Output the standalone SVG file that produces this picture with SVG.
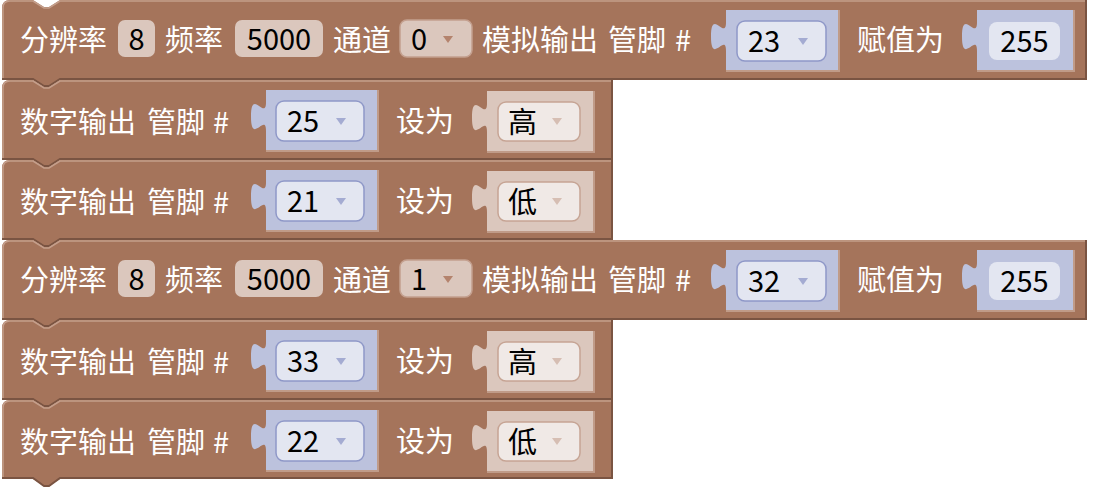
<svg xmlns="http://www.w3.org/2000/svg" width="1096" height="488" viewBox="0 0 1096 488">
<style>
.blk{fill:#a5745b}
.hl{fill:none;stroke:#c49e8b;stroke-width:1.5}
.dk{fill:none;stroke:#7a5442;stroke-width:2}
.slot{fill:none;stroke:#c09b88;stroke-width:2}
.lbl{font-family:"Noto Sans CJK SC","Noto Sans",sans-serif;font-size:29px;fill:#ffffff}
.val{font-family:"Noto Sans CJK SC","Noto Sans",sans-serif;font-size:29px;fill:#000000}
.fb{fill:#dbc7bd}
.fbd{fill:#dbc7bd;stroke:#c4a08f;stroke-width:1.5}
.vb{fill:#bcc2dd}
.vf{fill:#e3e6f1}
.vfd{fill:#e3e6f1;stroke:#8f98c8;stroke-width:1.5}
.lb{fill:#dbc7bd}
.lfd{fill:#f0e9e6;stroke:#c6a494;stroke-width:1.5}
.tri1{fill:#b4836d}
.tri2{fill:#a4abd2}
.tri3{fill:#d6beb3}
</style>

<!-- Block 1 -->
<g id="block1">
<path class="blk" d="M2,8 Q2,0 10,0 H33 l11,7 h5 l11,-7 H1087 V80 H60 l-11,7 h-5 l-11,-7 H2 Z"/>
<path class="hl" d="M3,80 V8 Q3,1 10,1 H33 l11,7 h5 l11,-7 H1086"/>
<path class="dk" d="M1086,0 V79 H60 l-11,7 h-5 l-11,-7 H2"/>
<text class="lbl" x="20" y="51">分辨率</text>
<rect class="fb" x="118" y="20" width="37" height="37" rx="7"/>
<text class="val" x="136.5" y="50" text-anchor="middle">8</text>
<text class="lbl" x="165" y="51">频率</text>
<rect class="fb" x="235" y="20" width="88" height="37" rx="7"/>
<text class="val" x="279" y="50" text-anchor="middle">5000</text>
<text class="lbl" x="333" y="51">通道</text>
<rect class="fbd" x="400" y="20" width="72" height="37" rx="7"/>
<text class="val" x="411" y="50">0</text>
<polygon class="tri1" points="443,36 453,36 448,43"/>
<text class="lbl" x="482" y="51">模拟输出</text>
<text class="lbl" x="608" y="51">管脚</text>
<text class="lbl" x="675" y="51">#</text>
<path class="slot" d="M839,10 V71 H726"/>
<path class="vb" d="M726,10 H838 V70 H726 V51 c0,-19 -15,15 -15,-14.5 s15,5 15,-14.5 Z"/>
<rect class="vfd" x="737" y="21" width="89" height="40" rx="8"/>
<text class="val" x="748" y="52">23</text>
<polygon class="tri2" points="798,38 808,38 803,45"/>
<text class="lbl" x="857" y="51">赋值为</text>
<path class="slot" d="M1074,10 V71 H977"/>
<path class="vb" d="M977,10 H1073 V70 H977 V51 c0,-19 -15,15 -15,-14.5 s15,5 15,-14.5 Z"/>
<rect class="vf" x="989" y="22" width="71" height="38" rx="8"/>
<text class="val" x="1024.5" y="52" text-anchor="middle">255</text>
</g>

<!-- Block 2 -->
<g id="block2" transform="translate(0,80)">
<path class="blk" d="M2,8 Q2,0 10,0 H33 l11,7 h5 l11,-7 H613 V80 H60 l-11,7 h-5 l-11,-7 H2 Z"/>
<path class="hl" d="M3,80 V8 Q3,1 10,1 H33 l11,7 h5 l11,-7 H612"/>
<path class="dk" d="M612,0 V79 H60 l-11,7 h-5 l-11,-7 H2"/>
<text class="lbl" x="20" y="53">数字输出</text>
<text class="lbl" x="147" y="53">管脚</text>
<text class="lbl" x="213" y="53">#</text>
<path class="slot" d="M378,10 V71 H266"/>
<path class="vb" d="M266,10 H377 V70 H266 V51 c0,-19 -15,15 -15,-14.5 s15,5 15,-14.5 Z"/>
<rect class="vfd" x="276" y="21" width="88" height="40" rx="8"/>
<text class="val" x="287" y="52">25</text>
<polygon class="tri2" points="336,38 346,38 341,45"/>
<text class="lbl" x="396" y="52">设为</text>
<path class="slot" d="M594,11 V72 H487"/>
<path class="lb" d="M487,11 H593 V71 H487 V52 c0,-19 -15,15 -15,-14.5 s15,5 15,-14.5 Z"/>
<rect class="lfd" x="498" y="22" width="82" height="39" rx="8"/>
<text class="val" x="508" y="53">高</text>
<polygon class="tri3" points="552,38 562,38 557,45"/>
</g>

<!-- Block 3 -->
<g id="block3" transform="translate(0,160)">
<path class="blk" d="M2,8 Q2,0 10,0 H33 l11,7 h5 l11,-7 H613 V80 H60 l-11,7 h-5 l-11,-7 H2 Z"/>
<path class="hl" d="M3,80 V8 Q3,1 10,1 H33 l11,7 h5 l11,-7 H612"/>
<path class="dk" d="M612,0 V79 H60 l-11,7 h-5 l-11,-7 H2"/>
<text class="lbl" x="20" y="53">数字输出</text>
<text class="lbl" x="147" y="53">管脚</text>
<text class="lbl" x="213" y="53">#</text>
<path class="slot" d="M378,10 V71 H266"/>
<path class="vb" d="M266,10 H377 V70 H266 V51 c0,-19 -15,15 -15,-14.5 s15,5 15,-14.5 Z"/>
<rect class="vfd" x="276" y="21" width="88" height="40" rx="8"/>
<text class="val" x="287" y="52">21</text>
<polygon class="tri2" points="336,38 346,38 341,45"/>
<text class="lbl" x="396" y="52">设为</text>
<path class="slot" d="M594,11 V72 H487"/>
<path class="lb" d="M487,11 H593 V71 H487 V52 c0,-19 -15,15 -15,-14.5 s15,5 15,-14.5 Z"/>
<rect class="lfd" x="498" y="22" width="82" height="39" rx="8"/>
<text class="val" x="508" y="53">低</text>
<polygon class="tri3" points="552,38 562,38 557,45"/>
</g>

<!-- Block 4 -->
<g id="block4" transform="translate(0,240)">
<path class="blk" d="M2,8 Q2,0 10,0 H33 l11,7 h5 l11,-7 H1087 V80 H60 l-11,7 h-5 l-11,-7 H2 Z"/>
<path class="hl" d="M3,80 V8 Q3,1 10,1 H33 l11,7 h5 l11,-7 H1086"/>
<path class="dk" d="M1086,0 V79 H60 l-11,7 h-5 l-11,-7 H2"/>
<text class="lbl" x="20" y="51">分辨率</text>
<rect class="fb" x="118" y="20" width="37" height="37" rx="7"/>
<text class="val" x="136.5" y="50" text-anchor="middle">8</text>
<text class="lbl" x="165" y="51">频率</text>
<rect class="fb" x="235" y="20" width="88" height="37" rx="7"/>
<text class="val" x="279" y="50" text-anchor="middle">5000</text>
<text class="lbl" x="333" y="51">通道</text>
<rect class="fbd" x="400" y="20" width="72" height="37" rx="7"/>
<text class="val" x="411" y="50">1</text>
<polygon class="tri1" points="443,36 453,36 448,43"/>
<text class="lbl" x="482" y="51">模拟输出</text>
<text class="lbl" x="608" y="51">管脚</text>
<text class="lbl" x="675" y="51">#</text>
<path class="slot" d="M839,10 V71 H726"/>
<path class="vb" d="M726,10 H838 V70 H726 V51 c0,-19 -15,15 -15,-14.5 s15,5 15,-14.5 Z"/>
<rect class="vfd" x="737" y="21" width="89" height="40" rx="8"/>
<text class="val" x="748" y="52">32</text>
<polygon class="tri2" points="798,38 808,38 803,45"/>
<text class="lbl" x="857" y="51">赋值为</text>
<path class="slot" d="M1074,10 V71 H977"/>
<path class="vb" d="M977,10 H1073 V70 H977 V51 c0,-19 -15,15 -15,-14.5 s15,5 15,-14.5 Z"/>
<rect class="vf" x="989" y="22" width="71" height="38" rx="8"/>
<text class="val" x="1024.5" y="52" text-anchor="middle">255</text>
</g>

<!-- Block 5 -->
<g id="block5" transform="translate(0,320)">
<path class="blk" d="M2,8 Q2,0 10,0 H33 l11,7 h5 l11,-7 H613 V80 H60 l-11,7 h-5 l-11,-7 H2 Z"/>
<path class="hl" d="M3,80 V8 Q3,1 10,1 H33 l11,7 h5 l11,-7 H612"/>
<path class="dk" d="M612,0 V79 H60 l-11,7 h-5 l-11,-7 H2"/>
<text class="lbl" x="20" y="53">数字输出</text>
<text class="lbl" x="147" y="53">管脚</text>
<text class="lbl" x="213" y="53">#</text>
<path class="slot" d="M378,10 V71 H266"/>
<path class="vb" d="M266,10 H377 V70 H266 V51 c0,-19 -15,15 -15,-14.5 s15,5 15,-14.5 Z"/>
<rect class="vfd" x="276" y="21" width="88" height="40" rx="8"/>
<text class="val" x="287" y="52">33</text>
<polygon class="tri2" points="336,38 346,38 341,45"/>
<text class="lbl" x="396" y="52">设为</text>
<path class="slot" d="M594,11 V72 H487"/>
<path class="lb" d="M487,11 H593 V71 H487 V52 c0,-19 -15,15 -15,-14.5 s15,5 15,-14.5 Z"/>
<rect class="lfd" x="498" y="22" width="82" height="39" rx="8"/>
<text class="val" x="508" y="53">高</text>
<polygon class="tri3" points="552,38 562,38 557,45"/>
</g>

<!-- Block 6 -->
<g id="block6" transform="translate(0,400)">
<path class="blk" d="M2,8 Q2,0 10,0 H33 l11,7 h5 l11,-7 H613 V79 H60 l-11,7 h-5 l-11,-7 H2 Z"/>
<path class="hl" d="M3,79 V8 Q3,1 10,1 H33 l11,7 h5 l11,-7 H612"/>
<path class="dk" d="M612,0 V78 H60 l-11,8 h-5 l-11,-8 H2"/>
<text class="lbl" x="20" y="53">数字输出</text>
<text class="lbl" x="147" y="53">管脚</text>
<text class="lbl" x="213" y="53">#</text>
<path class="slot" d="M378,10 V71 H266"/>
<path class="vb" d="M266,10 H377 V70 H266 V51 c0,-19 -15,15 -15,-14.5 s15,5 15,-14.5 Z"/>
<rect class="vfd" x="276" y="21" width="88" height="40" rx="8"/>
<text class="val" x="287" y="52">22</text>
<polygon class="tri2" points="336,38 346,38 341,45"/>
<text class="lbl" x="396" y="52">设为</text>
<path class="slot" d="M594,11 V72 H487"/>
<path class="lb" d="M487,11 H593 V71 H487 V52 c0,-19 -15,15 -15,-14.5 s15,5 15,-14.5 Z"/>
<rect class="lfd" x="498" y="22" width="82" height="39" rx="8"/>
<text class="val" x="508" y="53">低</text>
<polygon class="tri3" points="552,38 562,38 557,45"/>
</g>

<g id="connectors"></g>
</svg>
